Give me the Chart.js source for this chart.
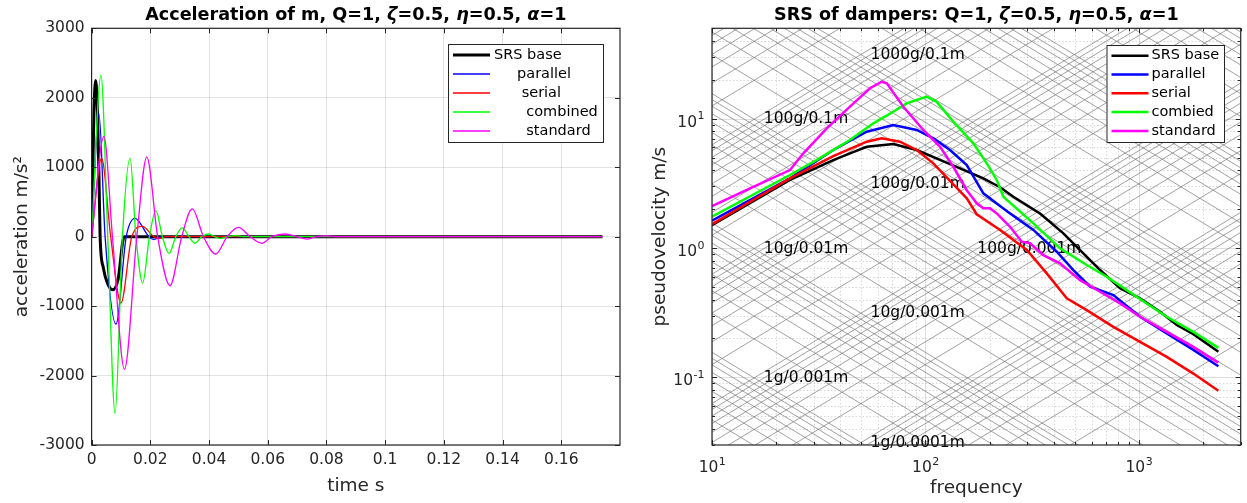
<!DOCTYPE html>
<html>
<head>
<meta charset="utf-8">
<script src="https://cdn.jsdelivr.net/npm/chart.js"></script>
<style>
  body { margin: 0; background: #fff; }
  #wrap { position: relative; width: 1247px; height: 503px; }
  .pane { position: absolute; top: 0; height: 503px; }
</style>
</head>
<body>
<div id="wrap">
  <div class="pane" style="left:0;width:640px"><canvas id="accChart"></canvas></div>
  <div class="pane" style="left:640px;width:607px"><canvas id="srsChart"></canvas></div>
</div>

<script>
// acceleration of m, time in s, acceleration in m/s^2
const baseT   = [0, 0.0004, 0.0008, 0.0014, 0.0020, 0.0025, 0.0029, 0.0040, 0.0055, 0.0072, 0.0090, 0.0111, 0.174];
const baseAcc = [0, 900, 1800, 2250, 1800, 900, 0, -450, -680, -765, -620, 0, 0];

const parT   = [0, 0.0025, 0.0046, 0.0083, 0.0118, 0.0148, 0.0195, 0.0210, 0.0240, 0.174];
const parAcc = [0, 1770, 0, -1260, 0, 264, 0, -40, 0, 0];

const serT   = [0, 0.0034, 0.0065, 0.0100, 0.0137, 0.0173, 0.0212, 0.0229, 0.0255, 0.174];
const serAcc = [0, 1130, 0, -957, 0, 149, 0, -25, 0, 0];

const combT   = [0, 0.0032, 0.0055, 0.0080, 0.0105, 0.0131, 0.0151, 0.0174, 0.0197, 0.0219, 0.0241, 0.0264,
                 0.0287, 0.0309, 0.0332, 0.0352, 0.0375, 0.0398, 0.0420, 0.0438, 0.0465, 0.0490, 0.0520, 0.174];
const combAcc = [0, 2323, 0, -2545, 0, 1130, 0, -668, 0, 375, 0, -241,
                 0, 125, 0, -95, 0, 38, 0, -25, 0, 15, 0, 0];

const stdT   = [0, 0.0042, 0.0071, 0.0112, 0.0154, 0.0188, 0.0225, 0.0267, 0.0307, 0.0343, 0.0381, 0.0423,
                0.0462, 0.0500, 0.0540, 0.0580, 0.0614, 0.0659, 0.0700, 0.0733, 0.0765, 0.0800, 0.0840, 0.174];
const stdAcc = [0, 1443, 0, -1909, 0, 1144, 0, -707, 0, 400, 0, -250,
                0, 134, 0, -96, 0, 38, 0, -35, 0, 10, 0, 0];

const timeTicks = [0, 0.02, 0.04, 0.06, 0.08, 0.1, 0.12, 0.14, 0.16];
const accTicks  = [-3000, -2000, -1000, 0, 1000, 2000, 3000];

// SRS of dampers, frequency in Hz, pseudovelocity in m/s
const baseFreq = [10, 23.2, 37.0, 44.3, 53.1, 70.7, 91.0, 130.4, 186.8, 223.7, 258.2, 344.4, 442.8, 530.3, 658, 816.4, 1013, 1257, 1505, 1800, 2358];
const basePV   = [1.50, 3.36, 4.79, 5.40, 6.07, 6.37, 5.73, 4.46, 3.46, 2.95, 2.49, 1.85, 1.30, 0.965, 0.676, 0.488, 0.408, 0.321, 0.254, 0.216, 0.158];

const parFreq = [10, 23.2, 37.0, 53.1, 70.7, 91.0, 108.9, 130.4, 156.2, 186.8, 223.7, 249.2, 320.5, 412.4, 493.3, 590.6, 759.5, 1013, 1351, 1800, 2358];
const parPV   = [1.63, 3.46, 5.73, 7.93, 8.94, 8.18, 7.05, 5.73, 4.38, 2.65, 2.11, 1.85, 1.38, 0.936, 0.676, 0.502, 0.433, 0.294, 0.219, 0.163, 0.122];

const serFreq = [10, 23.2, 37.0, 53.1, 62.4, 76.0, 91.0, 108.9, 130.4, 156.2, 174.0, 223.7, 298.4, 370.2, 459.3, 570.0, 759.5, 1013, 1351, 1800, 2358];
const serPV   = [1.53, 3.46, 5.14, 6.64, 7.05, 6.64, 5.73, 4.52, 3.30, 2.42, 1.82, 1.38, 0.965, 0.637, 0.408, 0.331, 0.246, 0.188, 0.144, 0.107, 0.0787];

const combFreq = [10, 23.2, 30.9, 44.3, 57.0, 70.7, 81.7, 101.4, 113.0, 135.1, 167.7, 193.8, 215.9, 231.8, 320.5, 427.3, 570.0, 707.3, 877.5, 1089, 1351, 1800, 2358];
const combPV   = [1.75, 3.67, 4.79, 6.84, 9.21, 11.32, 13.15, 14.8, 13.5, 9.48, 6.45, 4.52, 3.36, 2.49, 1.55, 0.994, 0.739, 0.600, 0.473, 0.373, 0.294, 0.225, 0.169];

const stdFreq = [10, 15.07, 23.2, 26.8, 34.5, 44.3, 55.0, 62.4, 65.9, 78.8, 97.8, 117.1, 135.1, 156.2, 174.0, 186.8, 200.8, 215.9,
                 249.2, 282.7, 309.3, 356.9, 427.3, 530.3, 658, 816.4, 1013, 1351, 1800, 2358];
const stdPV   = [2.11, 2.89, 4.01, 5.40, 8.43, 12.38, 17.2, 19.3, 18.8, 12.38, 8.18, 6.07, 4.25, 2.80, 2.22, 2.03, 2.03, 1.85,
                 1.46, 1.12, 1.09, 0.882, 0.761, 0.565, 0.459, 0.373, 0.294, 0.225, 0.172, 0.130];

// tripartite paper: constant acceleration (g) and constant displacement (m) lines
const accelDecadesG = [0.1, 1, 10, 100, 1000, 10000];
const dispDecadesM  = [0.00001, 0.0001, 0.001, 0.01, 0.1];
const gridSteps     = [1, 2, 3, 4, 5, 6, 7, 8, 9];
const tripLabels    = [[1000, 0.1], [100, 0.1], [100, 0.01], [10, 0.01], [100, 0.001], [10, 0.001], [1, 0.001], [1, 0.0001]];

const freqDecades = [10, 100, 1000];
const pvDecades   = [0.01, 0.1, 1, 10];
const pvTicks     = [0.1, 1, 10];

const G = 9.81;
const FONT = '"DejaVu Sans", sans-serif';
const AXIS_GREY = '#262626';

const pts = (xs, ys) => xs.map((x, i) => ({ x: x, y: ys[i] }));

const styles = [
  { color: '#000000', accW: 3,   srsW: 2.5 },
  { color: '#0000ff', accW: 1.3, srsW: 2.5 },
  { color: '#ff0000', accW: 1.3, srsW: 2.5 },
  { color: '#00ff00', accW: 1.3, srsW: 2.5 },
  { color: '#ff00ff', accW: 1.3, srsW: 2.5 },
];

const accLegend = ['SRS base', '     parallel', '      serial', '       combined', '       standard'];
const srsLegend = ['SRS base', 'parallel', 'serial', 'combied', 'standard'];

const accSeries = [[baseT, baseAcc], [parT, parAcc], [serT, serAcc], [combT, combAcc], [stdT, stdAcc]];
const srsSeries = [[baseFreq, basePV], [parFreq, parPV], [serFreq, serPV], [combFreq, combPV], [stdFreq, stdPV]];

function drawTitle(chart, parts) {
  const { ctx, chartArea: a } = chart;
  ctx.save();
  ctx.fillStyle = '#000';
  ctx.textBaseline = 'middle';
  const fontFor = p => (p.it ? 'italic ' : '') + 'bold 17.6px ' + FONT;
  let w = 0;
  parts.forEach(p => { ctx.font = fontFor(p); w += ctx.measureText(p.t).width; });
  let x = (a.left + a.right) / 2 - w / 2;
  parts.forEach(p => {
    ctx.font = fontFor(p);
    ctx.fillText(p.t, x, 15);
    x += ctx.measureText(p.t).width;
  });
  ctx.restore();
}

// box round the axes with inward tick marks on all four sides
function drawBox(chart, xt, yt) {
  const { ctx, chartArea: a, scales } = chart;
  ctx.save();
  ctx.strokeStyle = AXIS_GREY;
  ctx.lineWidth = 1;
  ctx.beginPath();
  xt.forEach(t => {
    const px = Math.round(scales.x.getPixelForValue(t.v)) + 0.5;
    ctx.moveTo(px, a.bottom); ctx.lineTo(px, a.bottom - t.len);
    ctx.moveTo(px, a.top);    ctx.lineTo(px, a.top + t.len);
  });
  yt.forEach(t => {
    const py = Math.round(scales.y.getPixelForValue(t.v)) + 0.5;
    ctx.moveTo(a.left, py);  ctx.lineTo(a.left + t.len, py);
    ctx.moveTo(a.right, py); ctx.lineTo(a.right - t.len, py);
  });
  ctx.stroke();
  ctx.lineWidth = 1.2;
  ctx.strokeRect(a.left, a.top, a.right - a.left, a.bottom - a.top);
  ctx.restore();
}

function drawLegend(chart, box, labels, widthKey) {
  const { ctx } = chart;
  ctx.save();
  ctx.fillStyle = '#fff';
  ctx.fillRect(box.x, box.y, box.w, box.h);
  ctx.strokeStyle = AXIS_GREY;
  ctx.lineWidth = 1;
  ctx.strokeRect(box.x + 0.5, box.y + 0.5, box.w, box.h);
  ctx.font = '14.5px ' + FONT;
  ctx.textBaseline = 'middle';
  ctx.fillStyle = '#000';
  labels.forEach((lab, i) => {
    const yy = box.y + box.first + i * box.row;
    ctx.strokeStyle = styles[i].color;
    ctx.lineWidth = styles[i][widthKey];
    ctx.beginPath();
    ctx.moveTo(box.x + box.l0, yy);
    ctx.lineTo(box.x + box.l1, yy);
    ctx.stroke();
    ctx.fillText(lab, box.x + box.tx, yy);
  });
  ctx.restore();
}

// "10" with a raised exponent, as used on the log axes
function drawPower(ctx, exp, x, baseline, align) {
  const base = '10', sup = String(exp);
  ctx.font = '15.5px ' + FONT;
  const wb = ctx.measureText(base).width;
  ctx.font = '11px ' + FONT;
  const we = ctx.measureText(sup).width;
  const x0 = align === 'right' ? x - wb - we : x - (wb + we) / 2;
  ctx.textAlign = 'left';
  ctx.textBaseline = 'alphabetic';
  ctx.font = '15.5px ' + FONT;
  ctx.fillText(base, x0, baseline);
  ctx.font = '11px ' + FONT;
  ctx.fillText(sup, x0 + wb + 0.5, baseline - 7.5);
}

const tickFont = { family: FONT, size: 15.5 };
const titleFont = { family: FONT, size: 18.5 };

// ---------- acceleration time history ----------
const accDecor = {
  id: 'accDecor',
  afterDatasetsDraw(chart) {
    drawBox(chart, timeTicks.map(v => ({ v: v, len: 5 })), accTicks.map(v => ({ v: v, len: 5 })));
    drawLegend(chart, { x: 448, y: 44, w: 155, h: 98, first: 11, row: 19, l0: 5, l1: 42, tx: 46 }, accLegend, 'accW');
  },
  afterDraw(chart) {
    drawTitle(chart, [{ t: 'Acceleration of m, Q=1, ' }, { t: 'ζ', it: true }, { t: '=0.5, ' },
                      { t: 'η', it: true }, { t: '=0.5, ' }, { t: 'α', it: true }, { t: '=1' }]);
  }
};

new Chart(document.getElementById('accChart'), {
  type: 'line',
  data: {
    datasets: accSeries.map((s, i) => ({
      label: srsLegend[i],
      data: pts(s[0], s[1]),
      borderColor: styles[i].color,
      borderWidth: styles[i].accW,
      cubicInterpolationMode: 'monotone',
      pointRadius: 0,
      fill: false,
      order: 5 - i
    }))
  },
  options: {
    responsive: true,
    maintainAspectRatio: false,
    animation: false,
    layout: { padding: { top: 28.3, right: 20, bottom: 0, left: 0 } },
    plugins: { legend: { display: false }, tooltip: { enabled: false } },
    scales: {
      x: {
        type: 'linear', min: 0, max: 0.18,
        afterBuildTicks: s => { s.ticks = timeTicks.map(v => ({ value: v })); },
        afterFit: s => { s.height = 58; },
        grid: { color: 'rgba(0,0,0,0.11)', drawTicks: false },
        border: { display: false },
        ticks: { padding: 6, color: AXIS_GREY, font: tickFont, maxRotation: 0, autoSkip: false,
                 callback: v => String(+(+v).toFixed(2)) },
        title: { display: true, text: 'time s', color: AXIS_GREY, font: titleFont, padding: { top: 0, bottom: 6 } }
      },
      y: {
        type: 'linear', min: -3000, max: 3000,
        afterBuildTicks: s => { s.ticks = accTicks.map(v => ({ value: v })); },
        afterFit: s => { s.width = 91.6; },
        grid: { color: 'rgba(0,0,0,0.11)', drawTicks: false },
        border: { display: false },
        ticks: { padding: 7, color: AXIS_GREY, font: tickFont, callback: v => String(v) },
        title: { display: true, text: 'acceleration m/s²', color: AXIS_GREY, font: titleFont, padding: { top: 11, bottom: 0 } }
      }
    }
  },
  plugins: [accDecor]
});

// ---------- shock response spectra ----------
function logGrid(decades, lo, hi) {
  const out = [];
  decades.forEach(d => gridSteps.forEach(k => {
    const v = +(d * k).toPrecision(6);
    if (v >= lo * 0.999 && v <= hi * 1.001) out.push({ v: v, major: k === 1 });
  }));
  return out;
}

const srsDecor = {
  id: 'srsDecor',
  beforeDatasetsDraw(chart) {
    const { ctx, chartArea: a, scales: { x, y } } = chart;
    const fg = logGrid(freqDecades, x.min, x.max);
    const pg = logGrid(pvDecades, y.min, y.max);
    ctx.save();
    ctx.beginPath();
    ctx.rect(a.left, a.top, a.right - a.left, a.bottom - a.top);
    ctx.clip();

    // rectangular log grid: dotted minor, solid major
    [false, true].forEach(major => {
      ctx.beginPath();
      ctx.setLineDash(major ? [] : [1.5, 2]);
      ctx.strokeStyle = major ? 'rgba(0,0,0,0.13)' : 'rgba(0,0,0,0.16)';
      ctx.lineWidth = 1;
      fg.filter(g => g.major === major).forEach(g => {
        const px = Math.round(x.getPixelForValue(g.v)) + 0.5;
        ctx.moveTo(px, a.top); ctx.lineTo(px, a.bottom);
      });
      pg.filter(g => g.major === major).forEach(g => {
        const py = Math.round(y.getPixelForValue(g.v)) + 0.5;
        ctx.moveTo(a.left, py); ctx.lineTo(a.right, py);
      });
      ctx.stroke();
    });
    ctx.setLineDash([]);

    // diagonal lines of constant acceleration and displacement
    const f0 = x.min, f1 = x.max, w = f => 2 * Math.PI * f;
    ctx.beginPath();
    ctx.strokeStyle = 'rgba(115,115,115,0.75)';
    ctx.lineWidth = 0.9;
    accelDecadesG.forEach(d => gridSteps.forEach(k => {
      const A = d * k * G;
      ctx.moveTo(x.getPixelForValue(f0), y.getPixelForValue(A / w(f0)));
      ctx.lineTo(x.getPixelForValue(f1), y.getPixelForValue(A / w(f1)));
    }));
    dispDecadesM.concat([1]).forEach(d => gridSteps.forEach(k => {
      const D = d * k;
      ctx.moveTo(x.getPixelForValue(f0), y.getPixelForValue(D * w(f0)));
      ctx.lineTo(x.getPixelForValue(f1), y.getPixelForValue(D * w(f1)));
    }));
    ctx.stroke();
    ctx.restore();

    // labels where an acceleration line meets a displacement line
    ctx.save();
    ctx.font = '15.5px ' + FONT;
    ctx.fillStyle = '#000';
    ctx.textBaseline = 'middle';
    tripLabels.forEach(([g, d]) => {
      const om = Math.sqrt(g * G / d);
      const f = om / (2 * Math.PI);
      ctx.fillText(g + 'g/' + d + 'm', x.getPixelForValue(f * 1.11), y.getPixelForValue(om * d));
    });
    ctx.restore();
  },
  afterDatasetsDraw(chart) {
    const { x, y } = chart.scales;
    const xt = logGrid(freqDecades, x.min, x.max).map(g => ({ v: g.v, len: g.major ? 5 : 3 }));
    const yt = logGrid(pvDecades, y.min, y.max).map(g => ({ v: g.v, len: g.major ? 5 : 3 }));
    drawBox(chart, xt, yt);
    drawLegend(chart, { x: 466.5, y: 45, w: 117.5, h: 97, first: 10.7, row: 18.8, l0: 5, l1: 42, tx: 45 }, srsLegend, 'srsW');
  },
  afterDraw(chart) {
    const { ctx, chartArea: a, scales: { x, y } } = chart;
    ctx.save();
    ctx.fillStyle = AXIS_GREY;
    freqDecades.forEach(v => drawPower(ctx, Math.round(Math.log10(v)), x.getPixelForValue(v), a.bottom + 27, 'center'));
    pvTicks.forEach(v => drawPower(ctx, Math.round(Math.log10(v)), a.left - 8, y.getPixelForValue(v) + 8, 'right'));
    ctx.restore();
    drawTitle(chart, [{ t: 'SRS of dampers: Q=1, ' }, { t: 'ζ', it: true }, { t: '=0.5, ' },
                      { t: 'η', it: true }, { t: '=0.5, ' }, { t: 'α', it: true }, { t: '=1' }]);
  }
};

new Chart(document.getElementById('srsChart'), {
  type: 'line',
  data: {
    datasets: srsSeries.map((s, i) => ({
      label: srsLegend[i],
      data: pts(s[0], s[1]),
      borderColor: styles[i].color,
      borderWidth: styles[i].srsW,
      tension: 0,
      pointRadius: 0,
      fill: false,
      order: 5 - i
    }))
  },
  options: {
    responsive: true,
    maintainAspectRatio: false,
    animation: false,
    layout: { padding: { top: 28.3, right: 6.3, bottom: 0, left: 0 } },
    plugins: { legend: { display: false }, tooltip: { enabled: false } },
    scales: {
      x: {
        type: 'logarithmic', min: 10, max: 3000,
        afterBuildTicks: s => { s.ticks = freqDecades.map(v => ({ value: v })); },
        afterFit: s => { s.height = 58; },
        grid: { display: false },
        border: { display: false },
        ticks: { display: false },
        title: { display: true, text: 'frequency', color: AXIS_GREY, font: titleFont, padding: { top: 0, bottom: 4 } }
      },
      y: {
        type: 'logarithmic', min: 0.03, max: 50,
        afterBuildTicks: s => { s.ticks = pvTicks.map(v => ({ value: v })); },
        afterFit: s => { s.width = 72; },
        grid: { display: false },
        border: { display: false },
        ticks: { display: false },
        title: { display: true, text: 'pseudovelocity m/s', color: AXIS_GREY, font: titleFont, padding: { top: 9, bottom: 0 } }
      }
    }
  },
  plugins: [srsDecor]
});
</script>
</body>
</html>
